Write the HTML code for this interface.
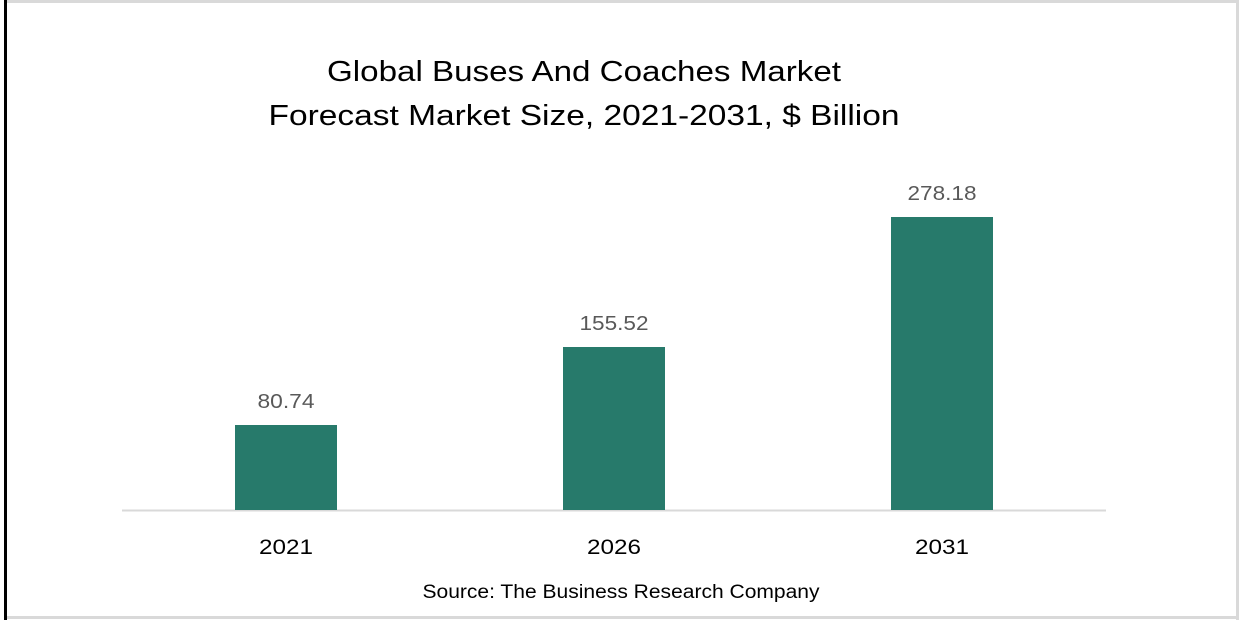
<!DOCTYPE html>
<html><head><meta charset="utf-8"><style>
html,body{margin:0;padding:0;background:#fff;}
svg{display:block;}
text{font-family:"Liberation Sans",sans-serif;}
</style></head><body>
<svg width="1244" height="620" viewBox="0 0 1244 620">
<rect x="0" y="0" width="1244" height="620" fill="#fff"/>
<rect x="6" y="0" width="1232" height="3" fill="#d9d9d9"/>
<rect x="1236" y="0" width="3" height="620" fill="#d9d9d9"/>
<rect x="6" y="616" width="1232" height="3" fill="#d9d9d9"/>
<rect x="4" y="0" width="3" height="620" fill="#000"/>
<text x="584" y="81" font-size="29" text-anchor="middle" textLength="514" lengthAdjust="spacingAndGlyphs" fill="#000">Global Buses And Coaches Market</text>
<text x="584" y="125" font-size="29" text-anchor="middle" textLength="631" lengthAdjust="spacingAndGlyphs" fill="#000">Forecast Market Size, 2021-2031, $ Billion</text>
<line x1="122" y1="510.5" x2="1106" y2="510.5" stroke="#d9d9d9" stroke-width="2"/>
<rect x="235" y="425" width="102" height="85" fill="#277a6b"/>
<rect x="563" y="347" width="102" height="163" fill="#277a6b"/>
<rect x="891" y="217" width="102" height="293" fill="#277a6b"/>
<g font-size="20" fill="#595959" text-anchor="middle">
<text x="286" y="408" textLength="57" lengthAdjust="spacingAndGlyphs">80.74</text>
<text x="614" y="330" textLength="69" lengthAdjust="spacingAndGlyphs">155.52</text>
<text x="942" y="200" textLength="69" lengthAdjust="spacingAndGlyphs">278.18</text>
</g>
<g font-size="21" fill="#000" text-anchor="middle">
<text x="286" y="554" textLength="54" lengthAdjust="spacingAndGlyphs">2021</text>
<text x="614" y="554" textLength="54" lengthAdjust="spacingAndGlyphs">2026</text>
<text x="942" y="554" textLength="54" lengthAdjust="spacingAndGlyphs">2031</text>
</g>
<text x="621" y="598" font-size="19" text-anchor="middle" textLength="397" lengthAdjust="spacingAndGlyphs" fill="#000">Source: The Business Research Company</text>
</svg>
</body></html>
